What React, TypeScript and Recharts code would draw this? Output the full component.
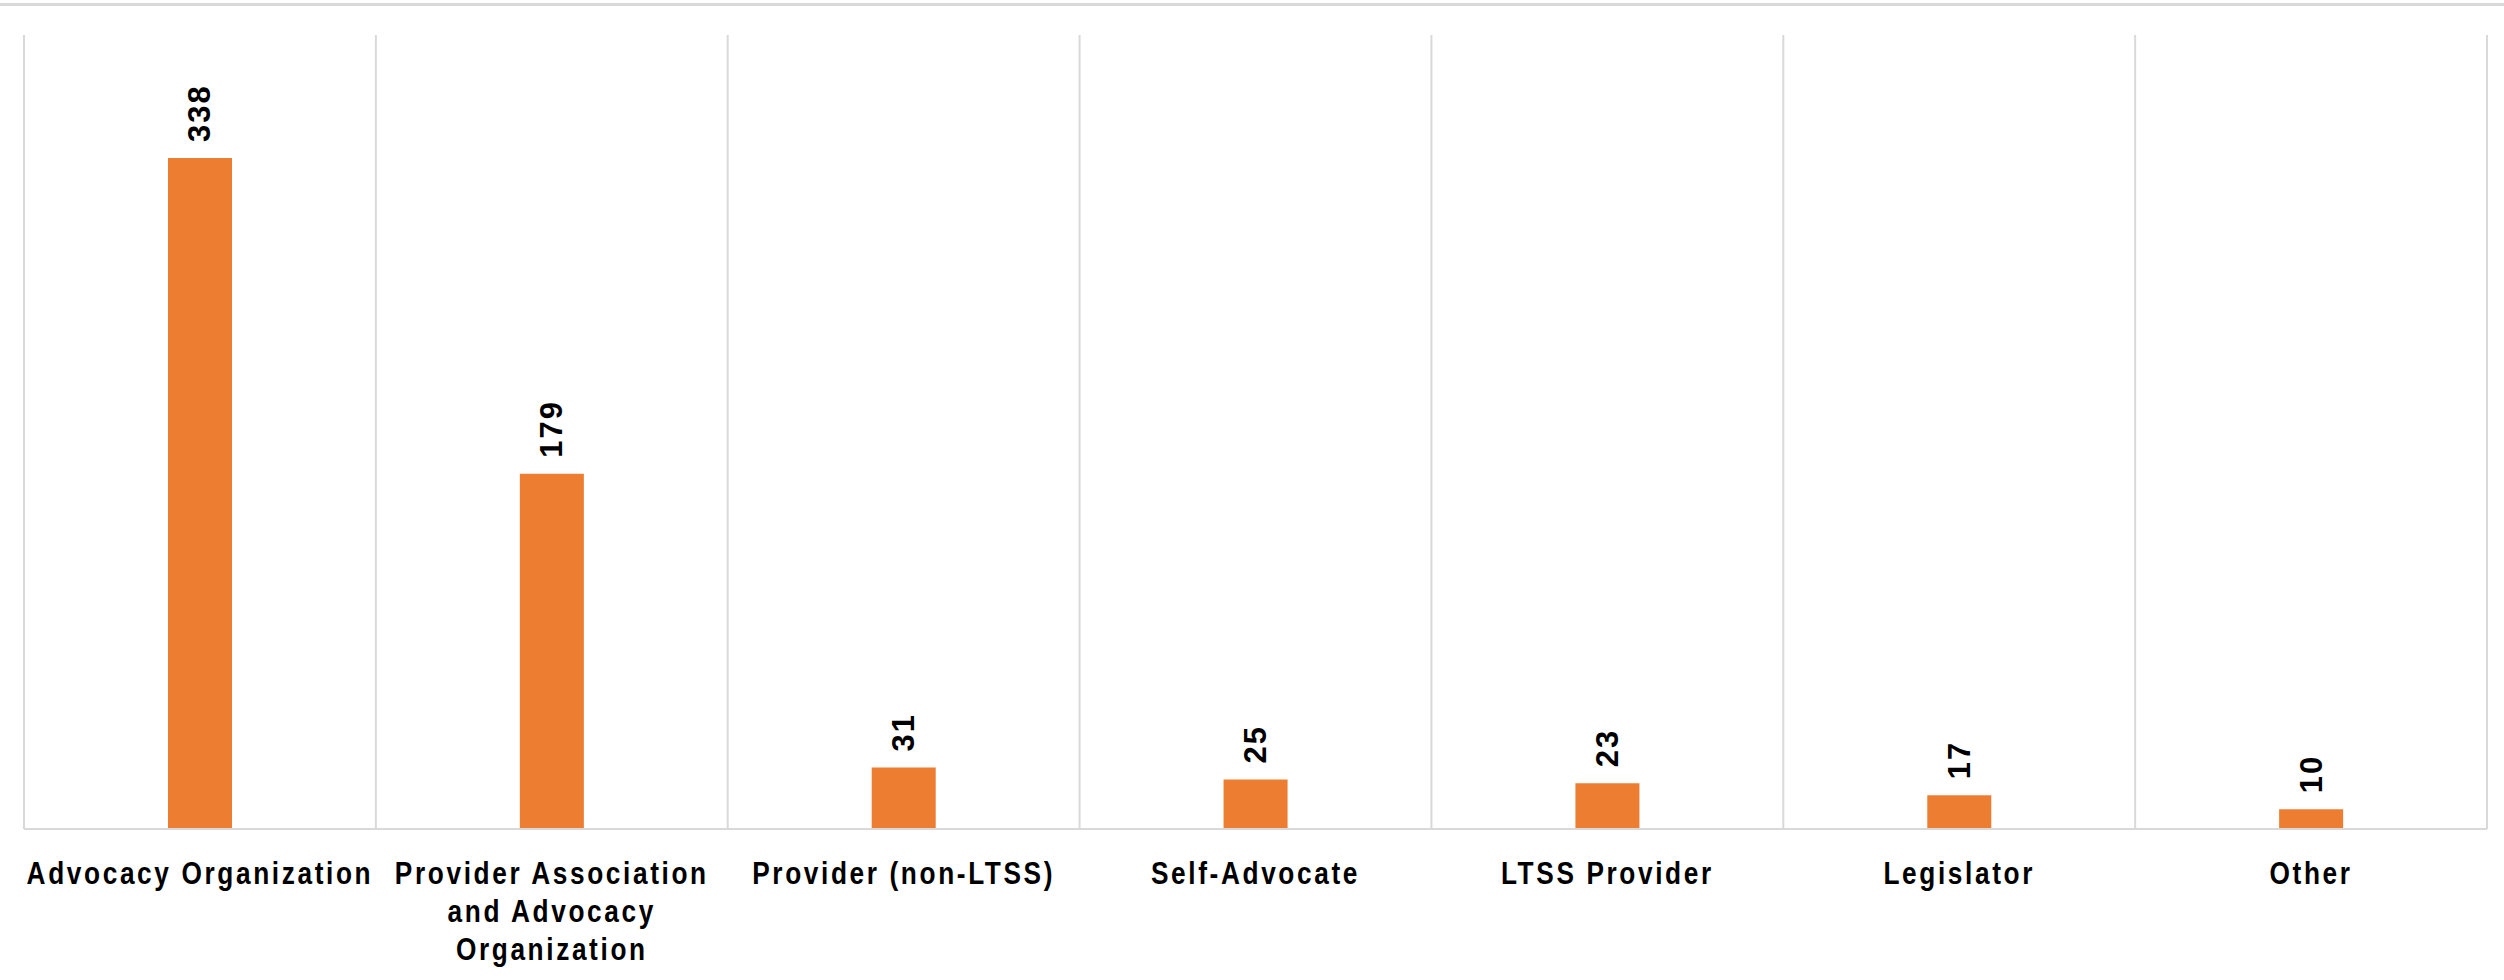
import { BarChart, Bar, XAxis, YAxis, CartesianGrid, LabelList } from 'recharts';

const categories = [
  'Advocacy Organization',
  'Provider Association and Advocacy Organization',
  'Provider (non-LTSS)',
  'Self-Advocate',
  'LTSS Provider',
  'Legislator',
  'Other',
];

const counts = [338, 179, 31, 25, 23, 17, 10];

// how the long tick labels break into lines
const tickLines: Record<string, string[]> = {
  'Provider Association and Advocacy Organization': ['Provider Association', 'and Advocacy', 'Organization'],
};

const data = categories.map((name, i) => ({ name, count: counts[i] }));

const GRID = '#d9d9d9';
const ORANGE = '#ED7D31';

// no narrow font installed, so squeeze the bold sans horizontally
const CategoryTick = ({ x, y, payload }: any) => {
  const lines = tickLines[payload.value] || [payload.value];
  return (
    <g transform={`translate(${x},${y + 55}) scale(0.82,1)`}>
      <text
        x={0}
        y={0}
        textAnchor="middle"
        fill="#000"
        fontFamily="'Liberation Sans', Arial, sans-serif"
        fontWeight="bold"
        fontSize={32}
        letterSpacing={3.2}
      >
        {lines.map((l, i) => (
          <tspan key={i} x={0} dy={i === 0 ? 0 : 38}>
            {l}
          </tspan>
        ))}
      </text>
    </g>
  );
};

const ValueLabel = ({ x, y, width, value }: any) => {
  const cx = x + width / 2;
  const cy = y - 16;
  return (
    <text
      x={cx}
      y={cy}
      transform={`rotate(-90 ${cx} ${cy})`}
      textAnchor="start"
      dominantBaseline="central"
      fill="#000"
      fontFamily="'Liberation Sans', Arial, sans-serif"
      fontWeight="bold"
      fontSize={31}
      letterSpacing={2}
    >
      {value}
    </text>
  );
};

export default function App() {
  return (
    <div style={{ position: 'absolute', left: 0, top: 0, width: 2504, height: 980, background: '#fff' }}>
      <div style={{ position: 'absolute', left: 0, top: 3, width: 2504, height: 0, borderTop: `3px solid ${GRID}` }} />
      <BarChart
        width={2504}
        height={980}
        data={data}
        margin={{ top: 35, right: 17, left: 24, bottom: 0 }}
      >
        <CartesianGrid
          horizontal={false}
          stroke={GRID}
          strokeWidth={2}
          verticalCoordinatesGenerator={({ offset }: any) =>
            categories.map((_, i) => offset.left + (i * offset.width) / categories.length).concat(offset.left + offset.width)
          }
        />
        <XAxis
          dataKey="name"
          height={151}
          tickLine={false}
          tickSize={0}
          tickMargin={0}
          axisLine={{ stroke: GRID, strokeWidth: 2 }}
          interval={0}
          tick={<CategoryTick />}
        />
        <YAxis hide domain={[0, 400]} />
        <Bar dataKey="count" fill={ORANGE} barSize={64} isAnimationActive={false}>
          <LabelList dataKey="count" content={<ValueLabel />} />
        </Bar>
      </BarChart>
    </div>
  );
}
